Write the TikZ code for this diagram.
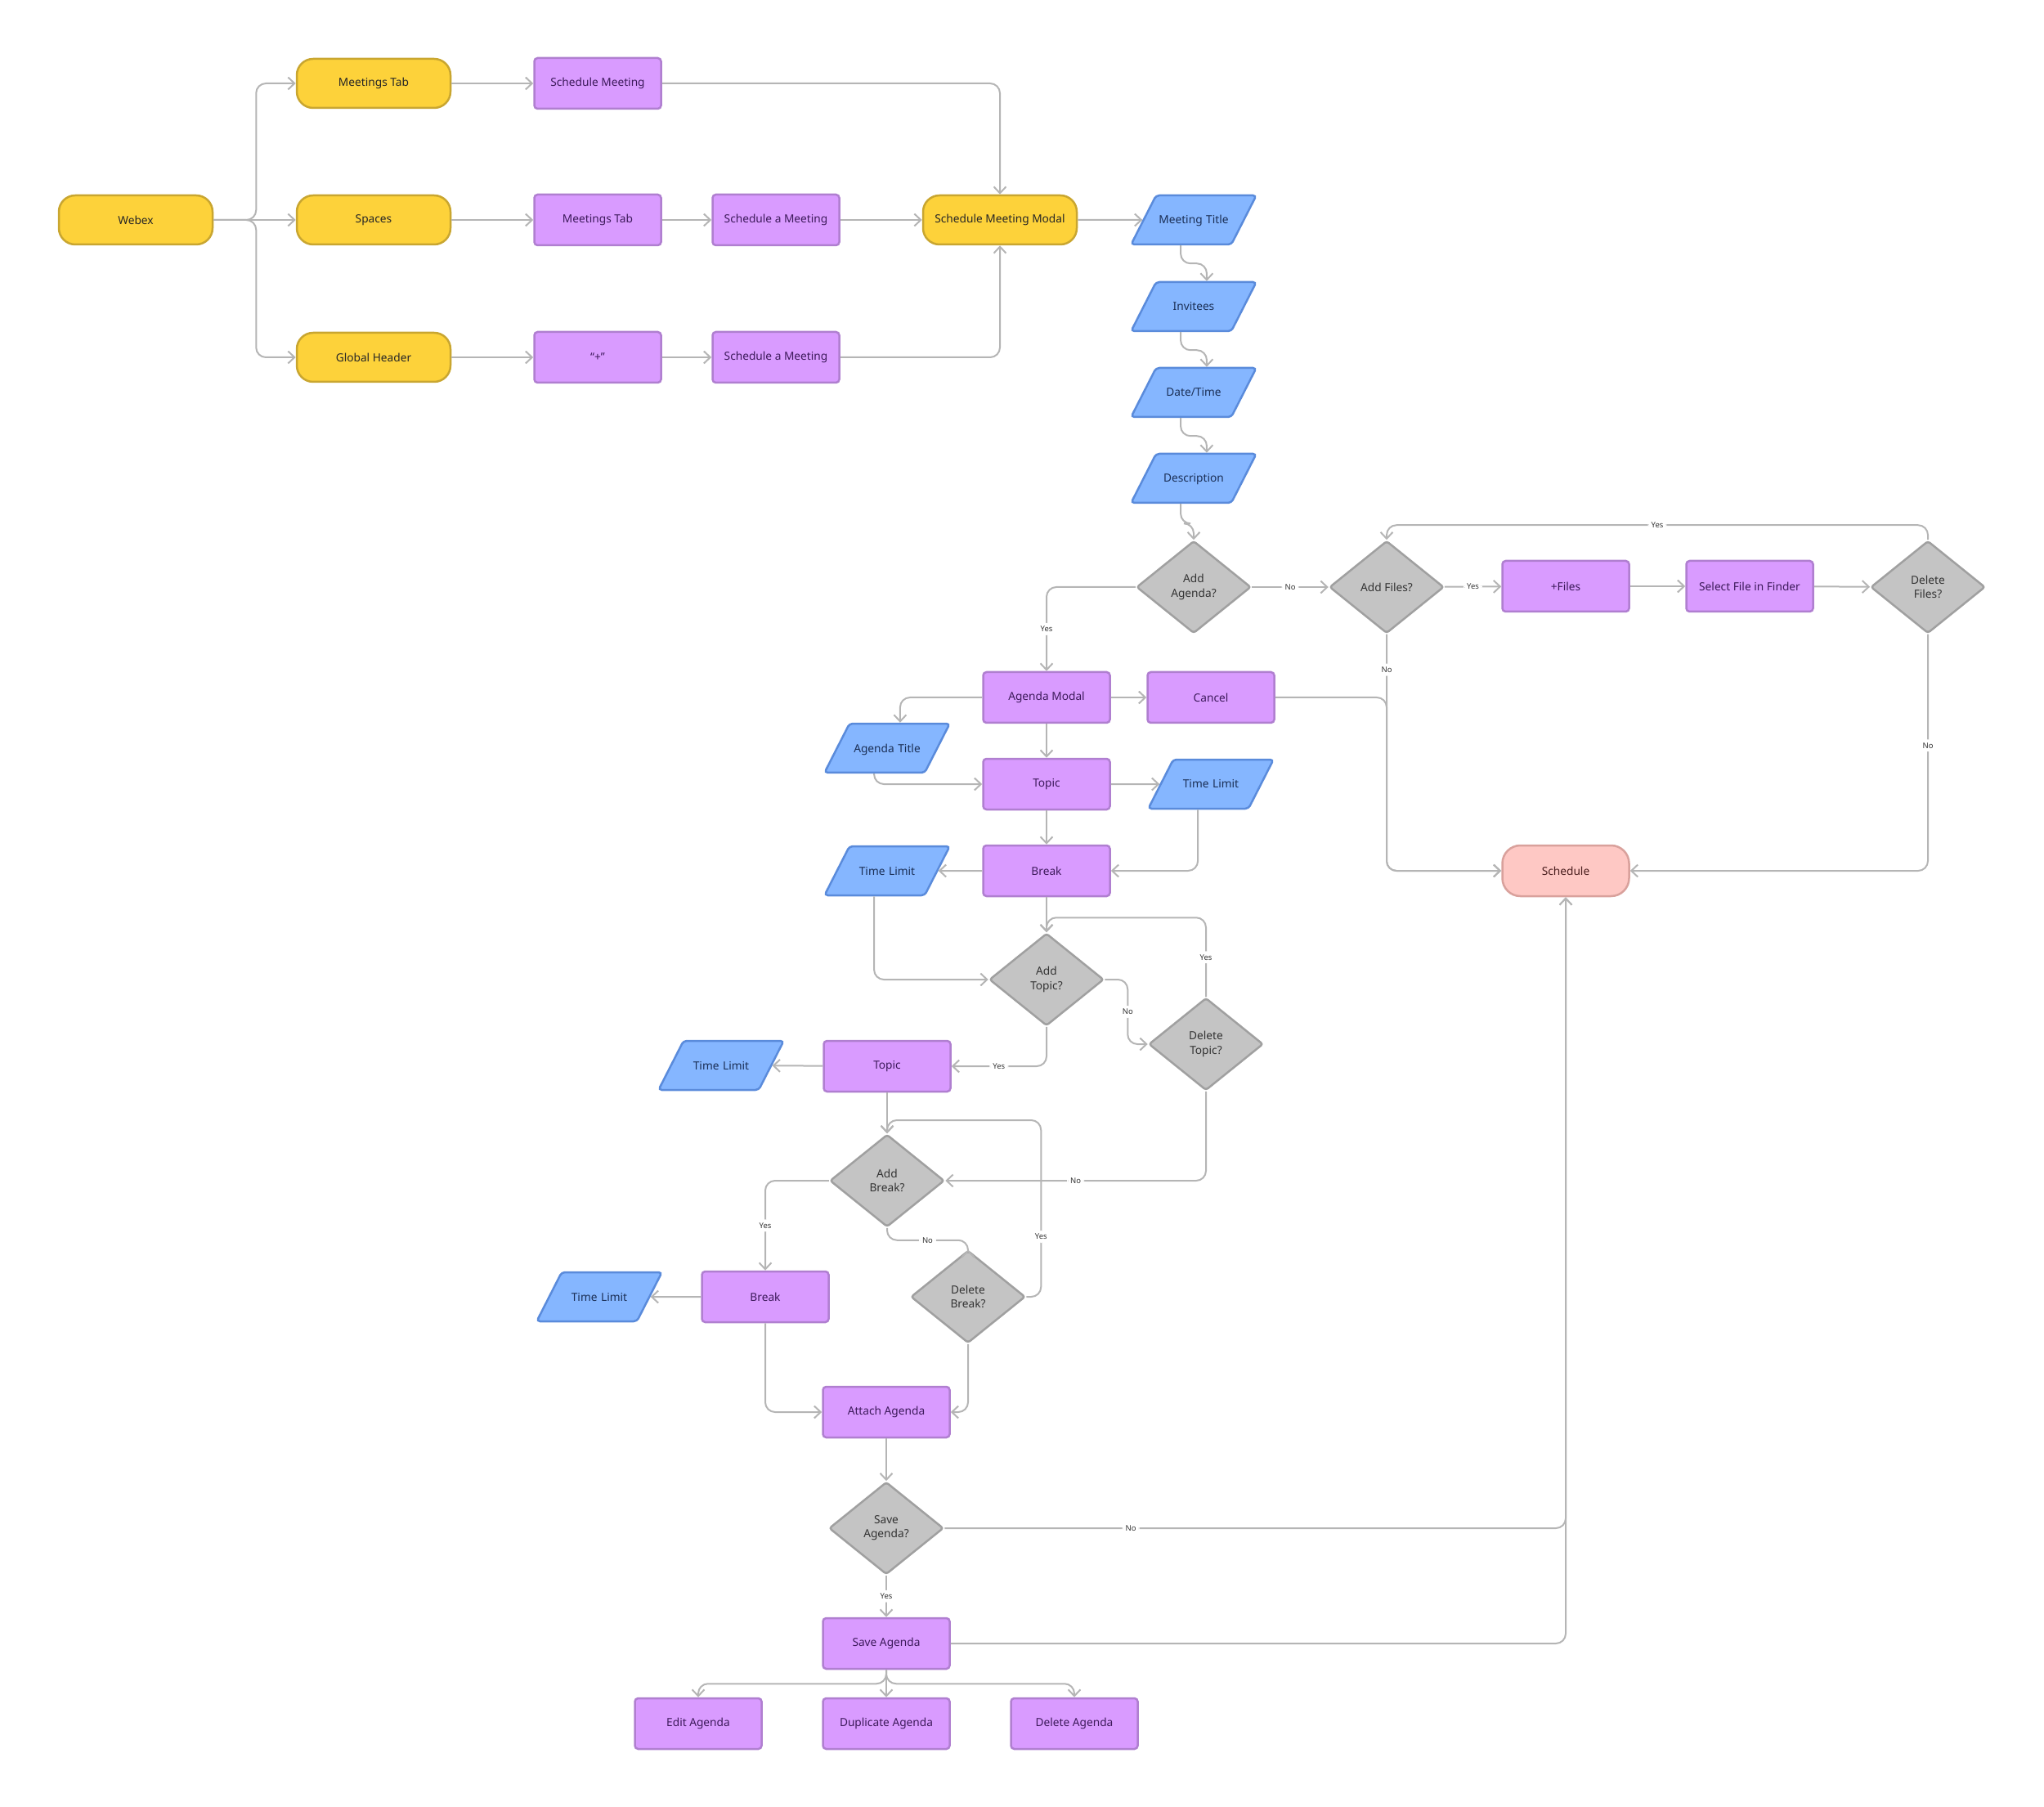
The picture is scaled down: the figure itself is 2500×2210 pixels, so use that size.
\documentclass[tikz,border=0pt]{standalone}
\usepackage{fontspec}
\setmainfont{Noto Sans}
\usepackage{tikz}
\usetikzlibrary{positioning,arrows.meta,calc,shapes.geometric}

\definecolor{yfill}{HTML}{FDD23A}
\definecolor{yline}{HTML}{C9A630}
\definecolor{pfill}{HTML}{D99BFF}
\definecolor{pline}{HTML}{B07FD0}
\definecolor{ptext}{HTML}{3D1A5B}
\definecolor{bfill}{HTML}{85B6FF}
\definecolor{bline}{HTML}{5A8BDB}
\definecolor{btext}{HTML}{1B2F55}
\definecolor{gfill}{HTML}{C4C4C4}
\definecolor{gline}{HTML}{A0A0A0}
\definecolor{rfill}{HTML}{FEC8C4}
\definecolor{rline}{HTML}{D9A19C}
\definecolor{rtext}{HTML}{4A1E1E}
\definecolor{cline}{HTML}{B5B5B5}

\begin{document}
\begin{tikzpicture}[
  x=0.1mm, y=-0.1mm,
  font=\fontsize{3.9}{4.9}\selectfont,
  boxbase/.style={draw, line width=0.25mm, align=center, inner sep=0.5mm},
  term/.style={boxbase, fill=yfill, draw=yline, text=black!85,
    rounded corners=2mm, minimum width=18.8mm, minimum height=6mm},
  proc/.style={boxbase, fill=pfill, draw=pline, text=ptext,
    rounded corners=0.4mm, minimum width=15.5mm, minimum height=6.2mm},
  io/.style={boxbase, trapezium, trapezium left angle=63, trapezium right angle=117,
    text width=9mm, text height=3mm, text depth=2mm, inner xsep=0.1mm,
    fill=bfill, draw=bline, text=btext, rounded corners=0.4mm},
  decide/.style={boxbase, diamond, fill=gfill, draw=gline, text=black!80,
    minimum width=14mm, minimum height=11.3mm, inner sep=0pt, rounded corners=0.3mm},
  endbox/.style={boxbase, fill=rfill, draw=rline, text=rtext,
    rounded corners=2.2mm, minimum width=15.5mm, minimum height=6.2mm},
  conn/.style={draw=cline, line width=0.2mm, rounded corners=1.2mm,
    -{Straight Barb[length=0.8mm,width=1.5mm]}},
  lbl/.style={fill=white, inner sep=0.4mm, font=\fontsize{2.7}{3}\selectfont, text=black!80}
]
\useasboundingbox (0,0) rectangle (2500,2210);

% entry points
\node[term] (webex) at (166,269) {Webex};
\node[term] (ytab) at (457,102) {Meetings Tab};
\node[term] (spaces) at (457,269) {Spaces};
\node[term] (gheader) at (457,437) {Global Header};

\node[proc] (smeet) at (731,102) {Schedule Meeting};
\node[proc] (ptab) at (731,269) {Meetings Tab};
\node[proc] (plus) at (731,437) {“+”};
\node[proc] (sam1) at (949,269) {Schedule a Meeting};
\node[proc] (sam2) at (949,437) {Schedule a Meeting};

\node[term] (modal) at (1223,269) {Schedule Meeting Modal};

% meeting details
\node[io] (mtitle) at (1460,269) {Meeting Title};
\node[io] (invitees) at (1460,375) {Invitees};
\node[io] (datetime) at (1460,480) {Date/Time};
\node[io] (desc) at (1460,585) {Description};

\node[decide] (addag) at (1460,718) {Add\\Agenda?};
\node[decide] (addfiles) at (1696,718) {Add Files?};
\node[proc] (pfiles) at (1915,717) {+Files};
\node[proc] (finder) at (2140,717) {Select File in Finder};
\node[decide] (delfiles) at (2358,718) {Delete\\Files?};

% agenda
\node[proc] (agmodal) at (1280,853) {Agenda Modal};
\node[proc] (cancel) at (1481,853) {Cancel};
\node[io] (agtitle) at (1085,915) {Agenda Title};
\node[proc] (topic) at (1280,959) {Topic};
\node[io] (tl1) at (1481,959) {Time Limit};
\node[proc] (brk) at (1280,1065) {Break};
\node[io] (tl2) at (1085,1065) {Time Limit};
\node[endbox] (schedule) at (1915,1065) {Schedule};

\node[decide] (addtopic) at (1280,1198) {Add\\Topic?};
\node[decide] (deltopic) at (1475,1277) {Delete\\Topic?};
\node[proc] (topic2) at (1085,1304) {Topic};
\node[io] (tl3) at (882,1303) {Time Limit};

\node[decide] (addbreak) at (1085,1444) {Add\\Break?};
\node[proc] (brk2) at (936,1586) {Break};
\node[io] (tl4) at (733,1586) {Time Limit};
\node[decide] (delbreak) at (1184,1586) {Delete\\Break?};

\node[proc] (attach) at (1084,1727) {Attach Agenda};
\node[decide] (saveq) at (1084,1869) {Save\\Agenda?};
\node[proc] (save) at (1084,2010) {Save Agenda};

\node[proc] (edit) at (854,2108) {Edit Agenda};
\node[proc] (dup) at (1084,2108) {Duplicate Agenda};
\node[proc] (delag) at (1314,2108) {Delete Agenda};

% connectors
\draw[conn] (webex.east) -- ++(52,0) |- (ytab.west);
\draw[conn] (webex.east) -- (spaces.west);
\draw[conn] (webex.east) -- ++(52,0) |- (gheader.west);

\draw[conn] (ytab) -- (smeet);
\draw[conn] (smeet.east) -| (modal.north);
\draw[conn] (spaces) -- (ptab);
\draw[conn] (ptab) -- (sam1);
\draw[conn] (sam1) -- (modal);
\draw[conn] (gheader) -- (plus);
\draw[conn] (plus) -- (sam2);
\draw[conn] (sam2.east) -| (modal.south);
\draw[conn] (modal) -- (mtitle);

\draw[conn] (mtitle.bottom side) -- ++(0,22) -| (invitees.top side);
\draw[conn] (invitees.bottom side) -- ++(0,22) -| (datetime.top side);
\draw[conn] (datetime.bottom side) -- ++(0,22) -| (desc.top side);
\draw[conn] (desc.bottom side) -- ++(0,24) -| (addag.north);

\draw[conn] (addag) -- node[lbl]{No} (addfiles);
\draw[conn] (addfiles) -- node[lbl]{Yes} (pfiles);
\draw[conn] (pfiles) -- (finder);
\draw[conn] (finder) -- (delfiles);
\draw[conn] (delfiles.north) -- ++(0,-18) -- node[lbl]{Yes} ($(addfiles.north)+(0,-18)$) -- (addfiles.north);
\draw[conn] (delfiles.south) -- node[lbl,pos=0.47]{No} (delfiles.south |- schedule.east) -- (schedule.east);
\draw[conn] (addfiles.south) -- node[lbl,pos=0.15]{No} (addfiles.south |- schedule.west) -- (schedule.west);
\draw[conn] (cancel.east) -| (addfiles.south |- schedule.west) -- (schedule.west);

\draw[conn] (addag.west) -| node[lbl,pos=0.75]{Yes} (agmodal.north);
\draw[conn] (agmodal) -- (cancel);
\draw[conn] (agmodal.west) -| (agtitle.top side);
\draw[conn] (agmodal) -- (topic);
\draw[conn] (agtitle.bottom side) |- (topic.west);
\draw[conn] (topic) -- (tl1);
\draw[conn] (tl1.bottom side) |- (brk.east);
\draw[conn] (topic) -- (brk);
\draw[conn] (brk) -- (tl2);
\draw[conn] (brk) -- (addtopic);
\draw[conn] (tl2.bottom side) |- (addtopic.west);

\draw[conn] (addtopic.east) -- ++(28,0) |- node[lbl,pos=0.25]{No} (deltopic.west);
\draw[conn] (deltopic.north) -- node[lbl]{Yes} ++(0,-97) -| (addtopic.north);
\draw[conn] (addtopic.south) |- node[lbl,pos=0.75]{Yes} (topic2.east);
\draw[conn] (topic2) -- (tl3);
\draw[conn] (topic2) -- (addbreak);
\draw[conn] (deltopic.south) |- node[lbl,pos=0.75]{No} (addbreak.east);

\draw[conn] (addbreak.west) -| node[lbl,pos=0.75]{Yes} (brk2.north);
\draw[conn] (addbreak.south) -- ++(0,15) -| node[lbl,pos=0.25]{No} (delbreak.north);
\draw[conn] (delbreak.east) -- ++(18,0) -- node[lbl,pos=0.34]{Yes} ++(0,-216) -| (addbreak.north);
\draw[conn] (brk2) -- (tl4);
\draw[conn] (brk2.south) |- (attach.west);
\draw[conn] (delbreak.south) |- (attach.east);

\draw[conn] (attach) -- (saveq);
\draw[conn] (saveq.east) -| node[lbl,pos=0.15]{No} (schedule.south);
\draw[conn] (saveq) -- node[lbl]{Yes} (save);
\draw[conn] (save.east) -| (schedule.south);

\draw[conn] (save.south) -- ++(0,17) -| (edit.north);
\draw[conn] (save) -- (dup);
\draw[conn] (save.south) -- ++(0,17) -| (delag.north);

\end{tikzpicture}
\end{document}
